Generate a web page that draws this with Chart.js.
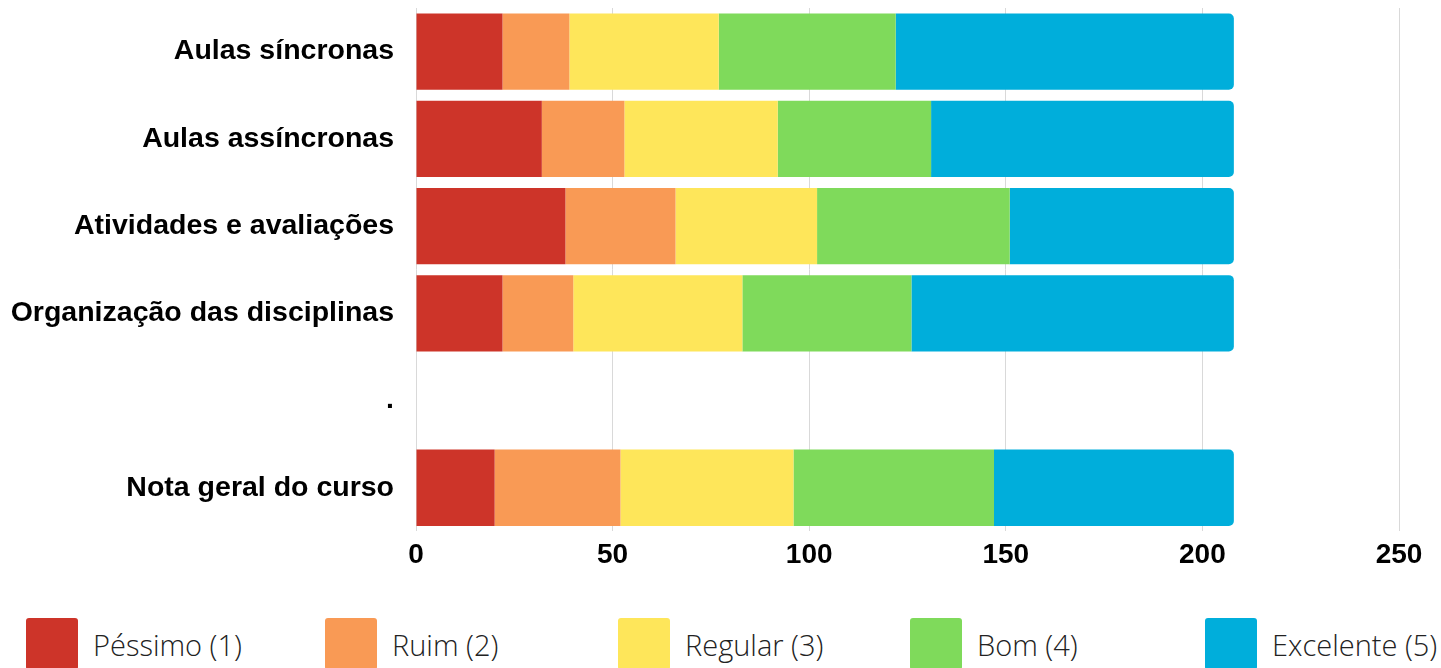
<!DOCTYPE html>
<html>
<head>
<meta charset="utf-8">
<script src="https://cdn.jsdelivr.net/npm/chart.js@4.4.0/dist/chart.umd.min.js"></script>
<style>
  html, body { margin: 0; padding: 0; background: #fff; width: 1441px; height: 668px; overflow: hidden; }
  #wrap { position: absolute; left: 0; top: 0; width: 1441px; height: 600px; }
  #legend { position: absolute; left: 0; top: 618px; width: 1441px; height: 50px; font-family: "Open Sans", sans-serif; font-weight: 300; font-size: 29px; color: #222; }
  .item { position: absolute; top: 0; display: flex; align-items: center; height: 52px; white-space: nowrap; }
  .box { width: 52px; height: 52px; border-radius: 3px; margin-right: 15px; }
</style>
</head>
<body>
<div id="wrap"><canvas id="c"></canvas></div>
<div id="legend"></div>
<script>
const categories = ["Aulas síncronas", "Aulas assíncronas", "Atividades e avaliações", "Organização das disciplinas", ".", "Nota geral do curso"];
const seriesNames = ["Péssimo (1)", "Ruim (2)", "Regular (3)", "Bom (4)", "Excelente (5)"];
const pessimo   = [22, 32, 38, 22, null, 20];
const ruim      = [17, 21, 28, 18, null, 32];
const regular   = [38, 39, 36, 43, null, 44];
const bom       = [45, 39, 49, 43, null, 51];
const excelente = [86, 77, 57, 82, null, 61];
const colors = ["#CD3429", "#F99A55", "#FEE65A", "#7FDA5B", "#00AEDB"];
const legendX = [26, 325, 618, 910, 1205];
const xTicks = [0, 50, 100, 150, 200, 250];

const seriesData = [pessimo, ruim, regular, bom, excelente];
const datasets = seriesNames.map((n, i) => ({
  label: n,
  data: seriesData[i],
  backgroundColor: colors[i],
  borderWidth: 0,
  borderRadius: 5,
  barPercentage: 1,
  categoryPercentage: 0.875
}));

new Chart(document.getElementById('c'), {
  type: 'bar',
  data: { labels: categories, datasets },
  options: {
    indexAxis: 'y',
    responsive: true,
    maintainAspectRatio: false,
    animation: false,
    layout: { padding: { top: 8, right: 42, bottom: 21, left: 0 } },
    plugins: { legend: { display: false }, tooltip: { enabled: false } },
    scales: {
      x: {
        stacked: true,
        min: 0, max: 250,
        afterBuildTicks: s => { s.ticks = xTicks.map(v => ({ value: v })); },
        grid: { color: '#d9d9d9', lineWidth: 1, drawTicks: false },
        border: { display: false },
        ticks: { padding: 7, color: '#000', font: { family: '"Liberation Sans", Arial, sans-serif', size: 28, weight: 'bold' } }
      },
      y: {
        stacked: true,
        afterFit: s => { s.width = 416; s.paddingTop = 0; s.paddingBottom = 0; },
        grid: { display: false, drawTicks: false },
        border: { display: false },
        ticks: { padding: 22, color: '#000', font: { family: '"Liberation Sans", Arial, sans-serif', size: 28.5, weight: 'bold' } }
      }
    }
  }
});

const lg = document.getElementById('legend');
seriesNames.forEach((n, i) => {
  const it = document.createElement('div');
  it.className = 'item';
  it.style.left = legendX[i] + 'px';
  it.innerHTML = '<div class="box" style="background:' + colors[i] + '"></div><span>' + n + '</span>';
  lg.appendChild(it);
});
</script>
</body>
</html>
